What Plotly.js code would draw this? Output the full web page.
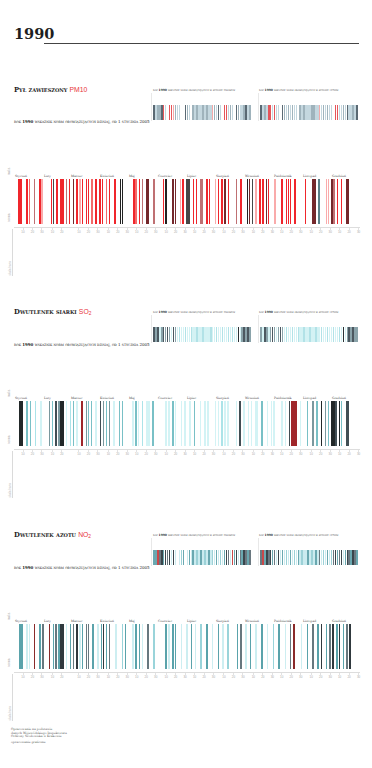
<!DOCTYPE html>
<html><head><meta charset="utf-8">
<script src="https://cdn.plot.ly/plotly-3.0.1.min.js"></script>
<style>html,body{margin:0;padding:0;background:#fff}#chart{width:372px;height:768px}</style>
</head><body><div id="chart"></div>
<script>
// ---------- DATA ----------
const yearLabel = "1990";
const months = ["Styczeń","Luty","Marzec","Kwiecień","Maj","Czerwiec","Lipiec","Sierpień","Wrzesień","Październik","Listopad","Grudzień"];
const monthLengths = [31,28,31,30,31,30,31,31,30,31,30,31];

// main chart: day of year with a bar, and its colour level
const pm10Days   = [6,8,14,17,22,28,30,40,42,46,50,52,56,59,63,67,70,73,77,79,83,87,91,94,98,101,107,113,115,127,129,133,136,140,142,148,158,161,168,171,176,179,183,185,190,193,197,199,204,207,213,216,220,223,227,235,240,247,249,252,256,260,263,267,269,276,283,288,290,292,297,308,316,318,322,330,332,336,338,342,346,351,353];
const pm10Levels = [3,3,3,2,4,3,1,3,6,3,3,3,4,3,5,3,1,3,3,3,2,3,3,3,2,3,3,7,7,3,2,3,4,5,5,4,3,7,5,5,1,3,6,6,3,3,4,4,3,3,1,3,3,5,3,4,3,7,5,6,1,3,3,5,3,1,3,3,3,3,3,3,5,5,8,1,1,5,4,3,3,5,5];

const so2Days   = [7,9,14,18,23,29,38,41,45,48,50,52,56,60,63,67,72,77,79,82,87,92,95,98,101,106,112,115,126,129,132,136,141,143,147,161,164,168,171,177,181,186,191,197,202,205,213,216,220,223,226,235,239,243,248,251,255,257,262,268,272,275,283,287,291,294,296,298,303,310,316,320,325,329,332,336,338,340,344,346,351,353];
const so2Levels = [6,6,3,3,2,1,4,3,5,4,6,6,1,2,3,1,7,4,3,3,1,5,4,3,4,1,3,3,1,3,1,2,1,1,3,1,1,3,1,1,1,1,3,1,1,1,1,1,2,1,1,1,5,1,1,1,1,1,3,1,1,1,1,1,5,7,7,7,1,3,4,3,6,4,3,6,6,5,6,3,5,5];

const no2Days   = [7,9,14,17,22,28,31,38,42,45,48,50,52,56,60,63,67,70,73,77,79,84,89,93,95,98,101,108,115,118,126,129,133,136,142,148,161,164,168,171,177,183,188,192,198,204,210,216,221,226,236,240,245,250,256,262,268,274,280,287,292,296,304,310,316,321,325,330,334,337,341,344,348,352,355];
const no2Levels = [3,3,1,1,6,3,4,6,3,4,3,5,5,1,3,4,5,1,3,4,4,3,1,3,5,3,4,1,2,3,1,3,3,1,4,2,3,1,3,3,1,1,3,1,2,3,1,3,1,2,3,4,1,3,1,3,1,2,3,1,4,6,1,3,4,3,5,3,4,5,3,5,3,4,5];

// small charts: one colour level per slot (0 = empty)
const pm10Winter = [3,1,2,2,3,4,1,0,4,4,5,2,1,1,0,0,3,2,1,0,2,1,2,1,1,2,1,2,1,1,5,2,1,3,1,0,4,4,1,2,1,0,3,2,1,1,2,3,1,2];
const pm10Summer = [3,1,2,1,4,4,1,4,1,1,0,3,2,1,2,1,2,1,1,0,2,1,2,1,1,1,2,2,1,1,5,1,2,1,2,1,1,0,4,4,1,1,2,1,3,1,1,2,1,3];
const so2Winter  = [4,3,4,1,3,4,3,4,3,1,4,3,1,2,1,1,2,1,1,2,1,1,2,1,1,2,1,1,1,2,1,1,2,1,1,2,1,1,2,1,2,1,1,5,1,3,4,3,4,3];
const so2Summer  = [3,1,4,3,1,3,4,3,1,3,4,3,1,2,1,1,2,1,1,2,1,1,2,1,1,2,1,1,2,1,1,2,1,1,2,1,1,2,1,1,2,1,5,1,3,4,3,4,3,3];
const no2Winter  = [3,3,6,4,5,3,5,4,5,1,5,1,0,1,2,3,0,1,3,1,3,1,2,1,3,1,2,1,3,1,2,1,3,1,2,1,3,5,4,1,6,3,5,1,4,3,5,4,3,4];
const no2Summer  = [4,6,3,5,4,5,3,4,1,5,1,3,1,2,1,3,1,2,1,3,1,2,1,1,3,1,2,1,3,1,4,1,2,1,3,1,2,4,5,3,4,5,1,3,5,4,3,5,4,3];

// ---------- STYLE ----------
const pm10Palette  = ["#ffffff","#f9abab","#f36a6a","#f0262c","#bf7073","#74282b","#474747","#222222","#5a8088"];
const so2Palette   = ["#ffffff","#d3f3f5","#abe3e8","#79c0c6","#7a989e","#414e54","#222829","#a0262a"];
const no2Palette   = ["#ffffff","#cdeef1","#9ad4da","#5aa3ab","#67787f","#30393e","#8a2a2a"];
const pm10SmallPal = ["#ffffff","#c4d7df","#9fb3bc","#5a6973","#e5555a","#f3aaaa"];
const so2SmallPal  = ["#ffffff","#d4f2f4","#b2e2e7","#8aa3aa","#4c5860","#2a3236"];
const no2SmallPal  = ["#ffffff","#cbebef","#9cd1d7","#6aa8b0","#6a7880","#3a464c","#c9484a"];

const W = 372, H = 768;
const X = px => px / W;
const Y = py => 1 - py / H;
const serif = "DejaVu Serif, Liberation Serif, serif";
const sans = "Liberation Sans, Arial, sans-serif";

const sections = [
  {off:0,   name:"Pył zawieszony", formula:"PM10",   days:pm10Days, levels:pm10Levels, pal:pm10Palette, win:pm10Winter, sum:pm10Summer, spal:pm10SmallPal},
  {off:222, name:"Dwutlenek siarki", formula:"SO<sub>2</sub>", days:so2Days, levels:so2Levels, pal:so2Palette, win:so2Winter, sum:so2Summer, spal:so2SmallPal},
  {off:445, name:"Dwutlenek azotu", formula:"NO<sub>2</sub>", days:no2Days, levels:no2Levels, pal:no2Palette, win:no2Winter, sum:no2Summer, spal:no2SmallPal}
];

// tick positions: 10th, 20th, 30th day of each month
const monthStart = [];
let acc = 1;
monthLengths.forEach(l => { monthStart.push(acc); acc += l; });
const tickVals = [], tickText = [];
monthStart.forEach((s, i) => {
  [10,20,30].forEach(d => { if (d <= monthLengths[i]) { tickVals.push(s + d - 1); tickText.push(String(d)); } });
});

const data = [];
const layout = {
  width: W, height: H, margin: {l:0, r:0, t:0, b:0},
  paper_bgcolor: "#fff", plot_bgcolor: "#fff",
  showlegend: false, bargap: 0,
  annotations: [], shapes: []
};

// header
layout.annotations.push({xref:"paper", yref:"paper", x:X(12), y:Y(44), xanchor:"left", yanchor:"bottom",
  text:"<b>" + yearLabel + "</b>", showarrow:false, font:{family:serif, size:14.5, color:"#1e1e1e"}});
layout.shapes.push({type:"line", xref:"paper", yref:"paper", x0:X(44), x1:X(359), y0:Y(43.5), y1:Y(43.5),
  line:{color:"#444", width:1.2}});

sections.forEach((s, i) => {
  const o = s.off;
  const a1 = 3*i + 1, a2 = 3*i + 2, a3 = 3*i + 3;
  const sx = n => n === 1 ? "x" : "x" + n;
  const sy = n => n === 1 ? "y" : "y" + n;
  const kx = n => n === 1 ? "xaxis" : "xaxis" + n;
  const ky = n => n === 1 ? "yaxis" : "yaxis" + n;

  // main barcode
  data.push({type:"bar", x:s.days, y:s.days.map(() => 0.94), base:0.06, width:1.55,
    marker:{color:s.levels.map(l => s.pal[l]), line:{width:0}}, xaxis:sx(a1), yaxis:sy(a1), hoverinfo:"skip"});
  layout[kx(a1)] = {domain:[X(14), X(360)], range:[0.5, 365.5], anchor:sy(a1), fixedrange:true,
    showgrid:false, zeroline:false, showline:true, linecolor:"#d4d4d4", linewidth:0.8,
    ticks:"outside", ticklen:2, tickcolor:"#cfcfcf", tickwidth:0.6,
    tickmode:"array", tickvals:tickVals, ticktext:tickText, tickfont:{size:3, color:"#aaa", family:sans}};
  layout[ky(a1)] = {domain:[Y(227 + o), Y(179 + o)], range:[0, 1], visible:false, fixedrange:true};

  // small barcodes
  [[s.win, a2, 153, 251], [s.sum, a3, 260, 358]].forEach(([arr, ax, x0, x1]) => {
    const idx = [], col = [];
    arr.forEach((l, k) => { if (l > 0) { idx.push(k + 1); col.push(s.spal[l]); } });
    data.push({type:"bar", x:idx, y:idx.map(() => 1), width:0.72,
      marker:{color:col, line:{width:0}}, xaxis:sx(ax), yaxis:sy(ax), hoverinfo:"skip"});
    layout[kx(ax)] = {domain:[X(x0), X(x1)], range:[0.5, arr.length + 0.5], anchor:sy(ax), visible:false, fixedrange:true};
    layout[ky(ax)] = {domain:[Y(120 + o), Y(104.5 + o)], range:[0, 1], visible:false, fixedrange:true};
    layout.shapes.push({type:"line", xref:"paper", yref:"paper", x0:X(x0 - 1.5), x1:X(x0 - 1.5),
      y0:Y(93 + o), y1:Y(121 + o), line:{color:"#e2e2e2", width:0.8}});
  });

  // titles
  layout.annotations.push({xref:"paper", yref:"paper", x:X(12), y:Y(90 + o), xanchor:"left", yanchor:"middle",
    showarrow:false, text:"<b>" + s.name + "</b> <span style='color:#e8343a;font-family:Liberation Sans;font-weight:normal'>" + s.formula + "</span>",
    font:{family:serif, size:6.8, color:"#1e1e1e", variant:"small-caps"}});
  layout.annotations.push({xref:"paper", yref:"paper", x:X(12), y:Y(122 + o), xanchor:"left", yanchor:"middle",
    showarrow:false, text:"rok <b>1990</b> wskaźnik norm obowiązujących dzisiaj, od 1 stycznia 2005",
    font:{family:serif, size:4, color:"#1e1e1e", variant:"small-caps"}});
  layout.annotations.push({xref:"paper", yref:"paper", x:X(151), y:Y(90 + o), xanchor:"left", yanchor:"middle",
    showarrow:false, text:"rok <b>1990</b> wskaźnik norm obowiązujących w sezonie zimowym",
    font:{family:serif, size:3, color:"#222", variant:"small-caps"}});
  layout.annotations.push({xref:"paper", yref:"paper", x:X(257), y:Y(90 + o), xanchor:"left", yanchor:"middle",
    showarrow:false, text:"rok <b>1990</b> wskaźnik norm obowiązujących w sezonie letnim",
    font:{family:serif, size:3, color:"#222", variant:"small-caps"}});

  // month labels
  months.forEach((m, k) => {
    layout.annotations.push({xref:sx(a1), yref:"paper", x:monthStart[k] - 0.5, y:Y(178.5 + o), xanchor:"left", yanchor:"bottom",
      showarrow:false, text:m, font:{family:serif, size:3, color:"#444"}, borderpad:0});
  });

  // y labels (rotated)
  layout.annotations.push({xref:"paper", yref:"paper", x:X(9), y:Y(171 + o), xanchor:"center", yanchor:"middle",
    showarrow:false, text:"maks.", textangle:-90, font:{family:sans, size:3, color:"#aaa"}});
  layout.annotations.push({xref:"paper", yref:"paper", x:X(9), y:Y(218 + o), xanchor:"center", yanchor:"middle",
    showarrow:false, text:"norma", textangle:-90, font:{family:sans, size:3, color:"#aaa"}});

  // left guide line and rotated note
  layout.shapes.push({type:"line", xref:"paper", yref:"paper", x0:X(12.5), x1:X(12.5), y0:Y(229 + o), y1:Y(276 + o),
    line:{color:"#d6d6d6", width:0.9}});
  layout.annotations.push({xref:"paper", yref:"paper", x:X(9.5), y:Y(268 + o), xanchor:"center", yanchor:"middle",
    showarrow:false, text:"skala barw", textangle:-90, font:{family:sans, size:3, color:"#bbb"}});
});

// footer
const footerLines = ["Opracowanie na podstawie", "danych Wojewódzkiego Inspektoratu", "Ochrony Środowiska w Krakowie"];
footerLines.forEach((t, k) => {
  layout.annotations.push({xref:"paper", yref:"paper", x:X(10), y:Y(729 + k*3.6), xanchor:"left", yanchor:"middle",
    showarrow:false, text:t, font:{family:serif, size:3, color:"#555"}, borderpad:0});
});
layout.annotations.push({xref:"paper", yref:"paper", x:X(10), y:Y(742), xanchor:"left", yanchor:"middle",
  showarrow:false, text:"opracowanie graficzne", font:{family:serif, size:3, color:"#555"}, borderpad:0});

Plotly.newPlot("chart", data, layout, {staticPlot:true, displayModeBar:false});
</script>
</body></html>
